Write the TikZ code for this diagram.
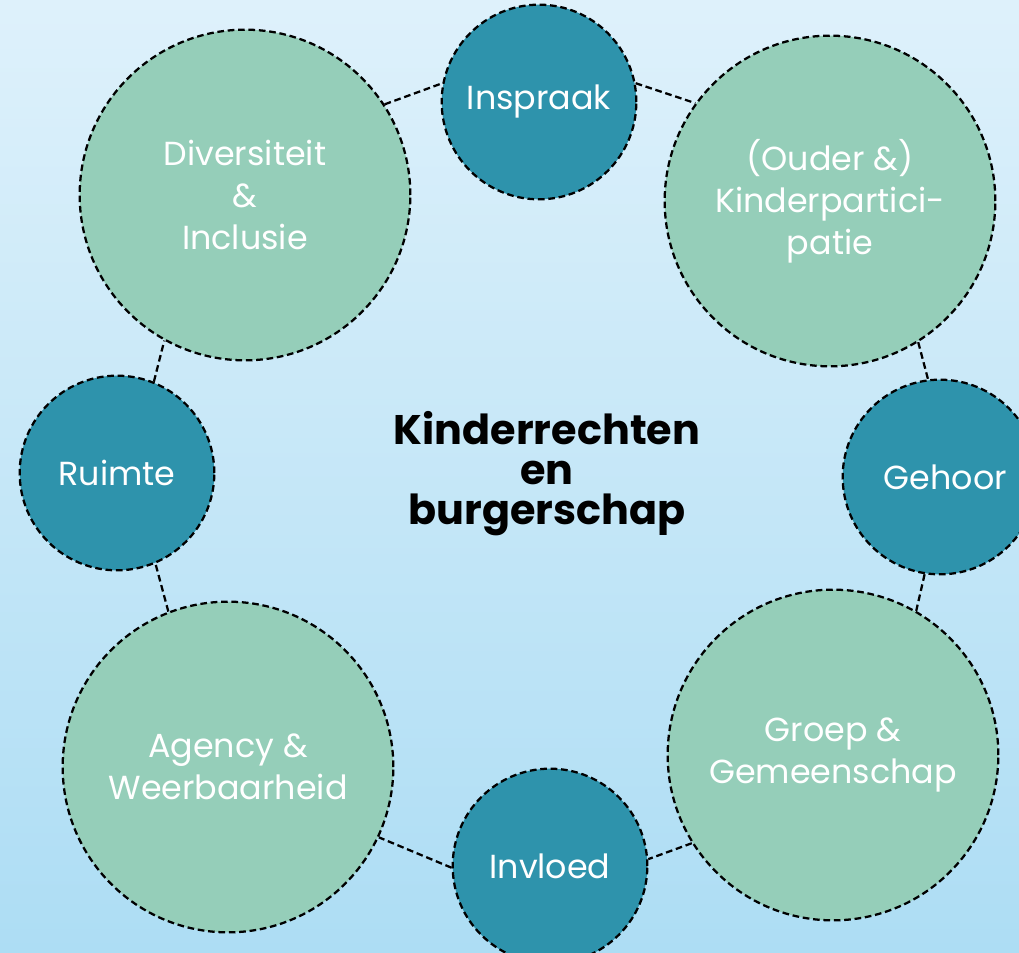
\documentclass[tikz,border=0pt]{standalone}
\usepackage{fontspec}
\setmainfont{Poppins}
\definecolor{bgtop}{HTML}{DEF1FB}
\definecolor{bgbot}{HTML}{ADDDF4}
\definecolor{tealc}{HTML}{2E93AC}
\definecolor{greenc}{HTML}{95CEB9}
\tikzset{
  ring/.style={circle, draw=black, line width=1.7pt, dash pattern=on 5pt off 2.8pt,
    inner sep=0pt, text=white, align=center},
  bigc/.style={ring, fill=greenc, minimum size=248pt, font=\fontsize{25}{31.5}\selectfont},
  smallc/.style={ring, fill=tealc, minimum size=146pt, font=\fontsize{25}{31.5}\selectfont},
  conn/.style={draw=black, line width=1.7pt, dash pattern=on 5pt off 2.8pt},
  title/.style={align=center, text=black, font=\fontsize{31}{30}\selectfont\bfseries}
}
\begin{document}
\begin{tikzpicture}[x=0.75pt,y=-0.75pt]
\useasboundingbox (0,0) rectangle (1019,952);
\clip (0,0) rectangle (1019,952);
\shade[top color=bgtop, bottom color=bgbot] (0,0) rectangle (1019,952);

\node[bigc] (div) at (245,195) {Diversiteit\\\&\\Inclusie};
\node[bigc] (oud) at (830,201) {(Ouder \&)\\Kinderpartici-\\patie};
\node[bigc] (age) at (228,767) {Agency \&\\Weerbaarheid};
\node[bigc] (gro) at (833,755) {Groep \&\\Gemeenschap};

\node[smallc] (ins) at (539,102) {\raisebox{-3pt}{Inspraak}};
\node[smallc] (rui) at (117,473) {\raisebox{-3pt}{Ruimte}};
\node[smallc] (geh) at (940,477) {\hspace*{8pt}\raisebox{-4pt}{Gehoor}};
\node[smallc] (inv) at (550,866) {\raisebox{-1pt}{Invloed}};

\node[title] (ctr) at (547,474) {Kinderrechten\\en\\burgerschap};

\draw[conn] (div.33.6) -- (ins.169);
\draw[conn] (ins.11) -- (oud.144);
\draw[conn] (oud.-58.7) -- (geh.97.9);
\draw[conn] (geh.261) -- (gro.60.8);
\draw[conn] (gro.212) -- (inv.4.6);
\draw[conn] (inv.181) -- (age.-25.6);
\draw[conn] (age.111) -- (rui.-67.5);
\draw[conn] (rui.68) -- (div.241.6);
\end{tikzpicture}
\end{document}
